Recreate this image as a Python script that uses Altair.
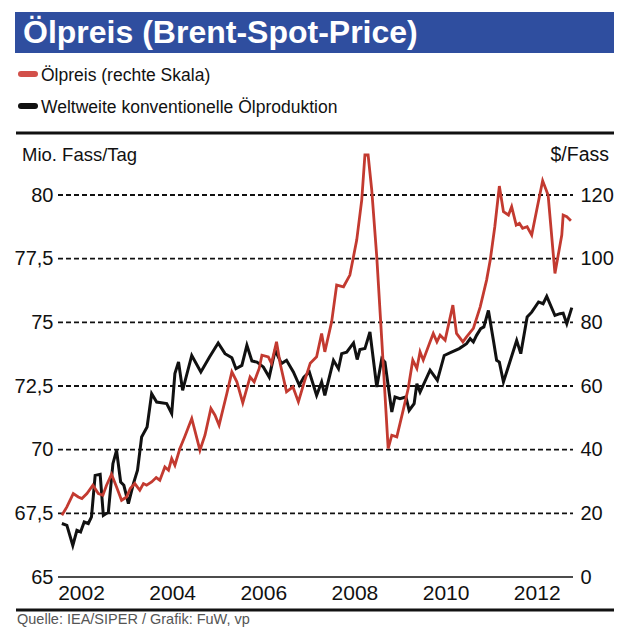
import altair as alt
import pandas as pd

# ---------------- data ----------------
prod_years = [
    2001.58, 2001.69, 2001.82, 2001.91, 2001.99, 2002.07, 2002.16, 2002.23, 2002.31, 2002.42,
    2002.49, 2002.60, 2002.70, 2002.78, 2002.87, 2002.94, 2003.04, 2003.15, 2003.24, 2003.33,
    2003.45, 2003.55, 2003.66, 2003.88, 2003.99, 2004.06, 2004.14, 2004.23, 2004.43, 2004.63,
    2004.82, 2005.01, 2005.16, 2005.31, 2005.40, 2005.53, 2005.64, 2005.75, 2005.86, 2006.00,
    2006.13, 2006.26, 2006.40, 2006.51, 2006.66, 2006.79, 2006.89, 2007.01, 2007.17, 2007.28,
    2007.35, 2007.54, 2007.65, 2007.72, 2007.83, 2007.98, 2008.06, 2008.12, 2008.23, 2008.34,
    2008.49, 2008.60, 2008.67, 2008.82, 2008.89, 2009.00, 2009.13, 2009.20, 2009.31, 2009.37,
    2009.44, 2009.66, 2009.82, 2009.97, 2010.13, 2010.30, 2010.46, 2010.54, 2010.61, 2010.68,
    2010.77, 2010.84, 2010.94, 2011.05, 2011.12, 2011.18, 2011.27, 2011.41, 2011.56, 2011.65,
    2011.79, 2011.89, 2012.04, 2012.14, 2012.22, 2012.40, 2012.51, 2012.58, 2012.66, 2012.77,
]
prod_values = [
    67.10, 67.03, 66.24, 66.83, 66.77, 67.16, 67.10, 67.36, 68.99, 69.03,
    67.42, 67.55, 69.45, 69.97, 68.73, 68.60, 67.88, 68.67, 69.19, 70.50,
    70.89, 72.20, 71.87, 71.81, 71.42, 72.99, 73.44, 72.33, 73.70, 73.05,
    73.64, 74.19, 73.77, 73.61, 73.18, 73.31, 74.10, 73.48, 73.44, 73.25,
    72.85, 73.90, 73.38, 73.51, 73.05, 72.53, 72.85, 73.05, 72.13, 72.66,
    72.13, 73.51, 73.18, 73.77, 73.83, 74.19, 73.54, 73.93, 73.97, 74.62,
    72.46, 73.57, 73.44, 71.48, 72.07, 72.00, 72.07, 71.54, 71.81, 72.59,
    72.26, 73.12, 72.72, 73.70, 73.83, 73.97, 74.16, 74.36, 74.23, 74.49,
    74.75, 74.82, 75.47, 74.29, 73.51, 73.44, 72.66, 73.44, 74.29, 73.77,
    75.21, 75.40, 75.80, 75.73, 76.02, 75.27, 75.34, 75.36, 74.95, 75.58,
]

price_years = [
    2001.58, 2001.69, 2001.83, 2001.94, 2002.02, 2002.13, 2002.26, 2002.38, 2002.48, 2002.56,
    2002.67, 2002.78, 2002.89, 2003.00, 2003.08, 2003.18, 2003.29, 2003.37, 2003.44, 2003.55,
    2003.65, 2003.73, 2003.84, 2003.92, 2003.99, 2004.06, 2004.17, 2004.28, 2004.43, 2004.61,
    2004.72, 2004.85, 2004.94, 2005.03, 2005.20, 2005.31, 2005.42, 2005.55, 2005.71, 2005.80,
    2005.91, 2005.97, 2006.11, 2006.18, 2006.29, 2006.37, 2006.51, 2006.65, 2006.77, 2006.89,
    2007.03, 2007.17, 2007.28, 2007.35, 2007.50, 2007.61, 2007.76, 2007.90, 2008.05, 2008.16,
    2008.23, 2008.30, 2008.38, 2008.49, 2008.60, 2008.74, 2008.82, 2008.93, 2009.07, 2009.18,
    2009.28, 2009.37, 2009.44, 2009.51, 2009.66, 2009.73, 2009.81, 2009.88, 2009.99, 2010.16,
    2010.24, 2010.38, 2010.46, 2010.61, 2010.76, 2010.90, 2010.98, 2011.08, 2011.18, 2011.27,
    2011.38, 2011.45, 2011.55, 2011.62, 2011.69, 2011.79, 2011.89, 2012.00, 2012.13, 2012.25,
    2012.40, 2012.55, 2012.58, 2012.66, 2012.75,
]
price_values = [
    19.40, 22.01, 26.22, 25.15, 24.65, 26.22, 28.83, 26.22, 25.68, 28.83,
    32.29, 28.29, 24.11, 25.15, 27.79, 29.36, 27.26, 29.36, 28.83, 29.86,
    31.25, 30.40, 34.58, 33.54, 37.22, 35.11, 40.36, 44.23, 49.80, 39.83,
    44.55, 52.94, 50.83, 47.69, 57.65, 64.45, 61.30, 54.70, 62.87, 61.30,
    65.51, 69.70, 69.16, 67.09, 73.88, 67.09, 58.16, 59.73, 55.01, 60.80,
    67.18, 69.16, 76.52, 70.73, 80.16, 91.70, 91.17, 94.84, 105.85, 118.42,
    132.57, 132.57, 121.57, 100.60, 74.41, 40.36, 44.55, 44.01, 52.41, 59.23,
    68.12, 65.51, 70.73, 68.12, 73.88, 76.52, 73.88, 75.98, 74.41, 85.41,
    76.52, 73.88, 75.45, 78.09, 84.88, 93.27, 99.56, 110.03, 122.82, 114.74,
    113.71, 116.32, 110.56, 111.10, 109.53, 110.03, 107.42, 115.28, 124.49, 119.99,
    95.38, 107.42, 113.71, 113.17, 111.92,
]

year_ticks = [2002, 2004, 2006, 2008, 2010, 2012]
left_ticks = [65, 67.5, 70, 72.5, 75, 77.5, 80]
right_ticks = [0, 20, 40, 60, 80, 100, 120]
grid_values = [67.5, 70, 72.5, 75, 77.5, 80]
base_value = [65]

title_text = "Ölpreis (Brent-Spot-Price)"
legend_labels = ["Ölpreis (rechte Skala)", "Weltweite konventionelle Ölproduktion"]
left_unit = "Mio. Fass/Tag"
right_unit = "$/Fass"
source_text = "Quelle: IEA/SIPER / Grafik: FuW, vp"

# ---------------- styling ----------------
FONT = "Liberation Sans, Arial, sans-serif"
RED = "#c33a30"
RED_LEG = "#d2504a"
BLACK = "#111111"
BLUE = "#2f4e9f"

W, H = 517, 438
x_scale = alt.Scale(domain=[2001.495, 2012.84], nice=False, zero=False)
left_scale = alt.Scale(domain=[65, 82.2], nice=False, zero=False)
right_scale = alt.Scale(domain=[0, 137.6], nice=False, zero=False)

x_axis = alt.Axis(values=year_ticks, format="d", title=None, grid=False, ticks=False,
                  domain=False, labelFontSize=21, labelFont=FONT, labelPadding=5,
                  labelFlush=False, labelColor=BLACK)
left_axis = alt.Axis(values=left_ticks, title=None, grid=False, ticks=False, domain=False,
                     labelExpr="replace(toString(datum.value), '.', ',')",
                     labelFontSize=20, labelFont=FONT, labelPadding=5, labelColor=BLACK)
right_axis = alt.Axis(values=right_ticks, title=None, grid=False, ticks=False, domain=False,
                      orient="right", labelFontSize=20, labelFont=FONT, labelPadding=5,
                      labelColor=BLACK)

prod_df = pd.DataFrame({"Jahr": prod_years, "Produktion": prod_values})
price_df = pd.DataFrame({"Jahr": price_years, "Preis": price_values})
grid_df = pd.DataFrame({"v": grid_values})
base_df = pd.DataFrame({"v": base_value})

grid = alt.Chart(grid_df).mark_rule(color=BLACK, strokeWidth=1.8, strokeDash=[5, 3]).encode(
    y=alt.Y("v:Q", scale=left_scale, axis=left_axis),
    x=alt.value(0), x2=alt.value(515),
)
base = alt.Chart(base_df).mark_rule(color=BLACK, strokeWidth=1.5).encode(
    y=alt.Y("v:Q", scale=left_scale, axis=left_axis),
    x=alt.value(0), x2=alt.value(515),
)
black_line = alt.Chart(prod_df).mark_line(color=BLACK, strokeWidth=3).encode(
    x=alt.X("Jahr:Q", scale=x_scale, axis=x_axis),
    y=alt.Y("Produktion:Q", scale=left_scale, axis=left_axis),
)
red_line = alt.Chart(price_df).mark_line(color=RED, strokeWidth=2.8).encode(
    x=alt.X("Jahr:Q", scale=x_scale, axis=x_axis),
    y=alt.Y("Preis:Q", scale=right_scale, axis=right_axis),
)

left_group = alt.layer(grid, base, black_line)


def one():
    return pd.DataFrame({"k": [0]})


def label(txt, x, y, size, color=BLACK, align="left", weight="normal"):
    return alt.Chart(pd.DataFrame({"t": [txt]})).mark_text(
        align=align, baseline="alphabetic", fontSize=size, font=FONT, color=color,
        fontWeight=weight,
    ).encode(x=alt.value(x), y=alt.value(y), text="t:N")


title_bar = alt.Chart(one()).mark_rect(color=BLUE).encode(
    x=alt.value(-43), x2=alt.value(556), y=alt.value(-127), y2=alt.value(-86)
)
title_lbl = label(title_text, -35, -96, 32, color="white", weight="bold")

leg_red = alt.Chart(one()).mark_rule(color=RED_LEG, strokeWidth=6, strokeCap="round").encode(
    x=alt.value(-37), x2=alt.value(-23), y=alt.value(-65)
)
leg_black = alt.Chart(one()).mark_rule(color=BLACK, strokeWidth=6, strokeCap="round").encode(
    x=alt.value(-37), x2=alt.value(-23), y=alt.value(-33)
)
leg_red_lbl = label(legend_labels[0], -17, -58, 17.5)
leg_black_lbl = label(legend_labels[1], -17, -26, 17.5)

top_rule = alt.Chart(one()).mark_rule(color=BLACK, strokeWidth=3).encode(
    x=alt.value(-42), x2=alt.value(556), y=alt.value(-6)
)
bottom_rule = alt.Chart(one()).mark_rule(color=BLACK, strokeWidth=3).encode(
    x=alt.value(-42), x2=alt.value(556), y=alt.value(471)
)
left_unit_lbl = label(left_unit, -36, 22, 18.5)
right_unit_lbl = label(right_unit, 551, 22, 19.5, align="right")
source_lbl = label(source_text, -41, 485, 14.5, color="#555555")

chart = alt.layer(
    left_group, red_line,
    title_bar, title_lbl, leg_red, leg_black, leg_red_lbl, leg_black_lbl,
    top_rule, bottom_rule, left_unit_lbl, right_unit_lbl, source_lbl,
).resolve_scale(y="independent").properties(
    width=W, height=H,
    autosize=alt.AutoSizeParams(type="none"),
    padding={"left": 50, "top": 131, "right": 45, "bottom": 51},
    background="white",
).configure_view(stroke=None)

chart.save("out.html", embed_options={"renderer": "svg", "actions": False})
